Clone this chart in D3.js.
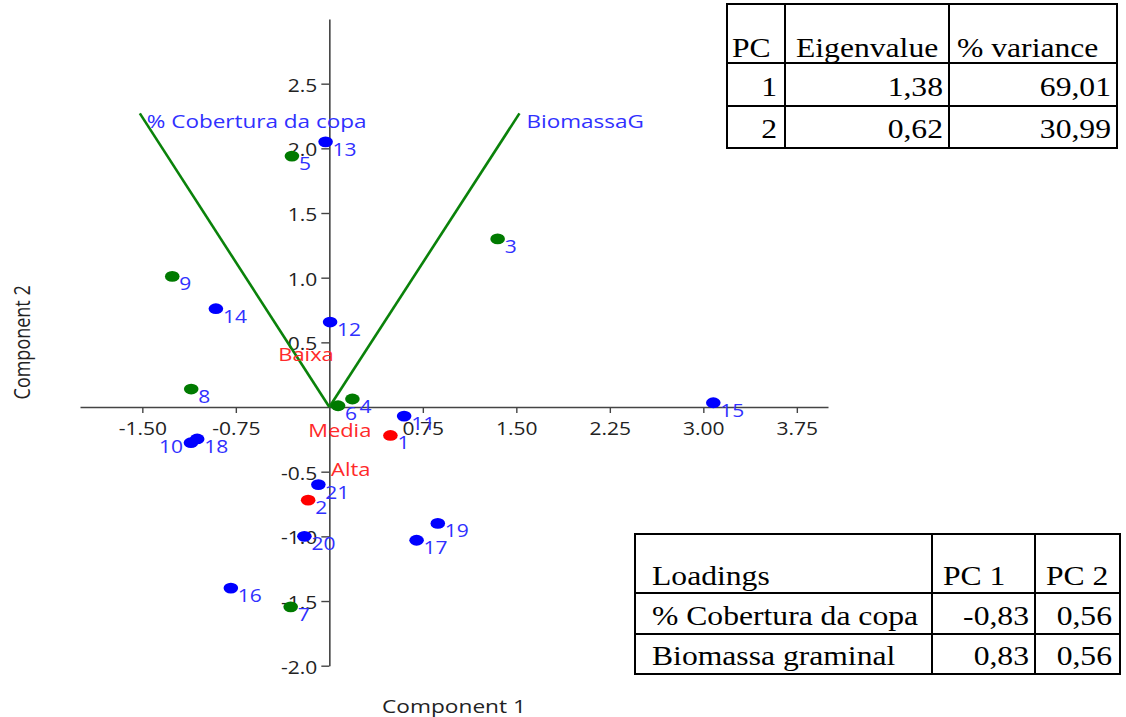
<!DOCTYPE html>
<html><head><meta charset="utf-8">
<script src="https://cdn.jsdelivr.net/npm/d3@7/dist/d3.min.js"></script>
<style>body{margin:0;background:#fff} svg{display:block}</style>
</head><body>
<svg id="c" width="1126" height="717"></svg>
<script>
// ---------- DATA ----------
const obsIds   = [1,2,3,4,5,6,7,8,9,10,11,12,13,14,15,16,17,18,19,20,21];
const obsPC1   = [0.49,-0.17,1.35,0.185,-0.30,0.07,-0.31,-1.108,-1.26,-1.11,0.60,0.006,-0.03,-0.91,3.08,-0.79,0.70,-1.06,0.87,-0.20,-0.088];
const obsPC2   = [-0.22,-0.72,1.30,0.062,1.94,0.01,-1.545,0.139,1.01,-0.276,-0.07,0.657,2.05,0.76,0.033,-1.40,-1.03,-0.247,-0.90,-1.00,-0.60];
const obsGroup = ["r","r","g","g","g","g","g","g","g","b","b","b","b","b","b","b","b","b","b","b","b"];
const groupColor = {r:"#ff0000", g:"#007a00", b:"#0000ff"};

const groupLabels = ["Baixa","Media","Alta"];
const groupLabelPC1 = [-0.41,-0.17,0.014];
const groupLabelPC2 = [0.358,-0.23,-0.53];

const varNames = ["% Cobertura da copa","BiomassaG"];
const varPC1 = [-1.52, 1.525];
const varPC2 = [2.27, 2.27];

const xTicks = [-1.5,-0.75,0.75,1.5,2.25,3.0,3.75];
const yTicks = [-2.0,-1.5,-1.0,-0.5,0.5,1.0,1.5,2.0,2.5];
const xTitle = "Component 1";
const yTitle = "Component 2";

// tables
const pcHeader = ["PC","Eigenvalue","% variance"];
const pcNumber = [1,2];
const eigenvalues = [1.38,0.62];
const variancePct = [69.01,30.99];

const loadHeader = ["Loadings","PC 1","PC 2"];
const loadVars = ["% Cobertura da copa","Biomassa graminal"];
const loadPC1 = [-0.83,0.83];
const loadPC2 = [0.56,0.56];

// ---------- DRAW ----------
const svg = d3.select("#c");
const x = d3.scaleLinear().domain([-2,4]).range([80,828]);
const y = d3.scaleLinear().domain([-2,3]).range([665.7,19]);
const SANS = "'Open Sans', 'Noto Sans', sans-serif";
const SERIF = "'Liberation Serif', 'Times New Roman', serif";
const hy = s => s.replace(/\u2212/g,"-");

function stext(g, str, px, py, opt) {
  return g.append("text")
    .attr("transform", `translate(${px},${py}) scale(${opt.sx||1},1)`)
    .attr("text-anchor", opt.anchor||"start")
    .style("font-family", opt.font||SANS)
    .style("font-size", (opt.size||17)+"px")
    .attr("fill", opt.fill||"#222")
    .text(str);
}

// axes
const xAxis = svg.append("g").attr("transform",`translate(0,${y(0)})`)
  .call(d3.axisBottom(x).tickValues(xTicks).tickSize(6).tickSizeOuter(0).tickFormat(d=>hy(d3.format(".2f")(d))));
const yAxis = svg.append("g").attr("transform",`translate(${x(0)},0)`)
  .call(d3.axisLeft(y).tickValues(yTicks).tickSize(8).tickSizeOuter(0).tickFormat(d=>hy(d3.format(".1f")(d))));
[xAxis,yAxis].forEach(a=>{
  a.select(".domain").attr("stroke","#444").attr("stroke-width",1.6);
  a.selectAll(".tick line").attr("stroke","#444").attr("stroke-width",1.4);
  a.selectAll(".tick text").style("font-family",SANS).style("font-size","17.5px").attr("fill","#222");
});
xAxis.selectAll(".tick text").attr("y",28).attr("dy",0).attr("transform","scale(1.2,1)");
yAxis.selectAll(".tick text").attr("x",-10).attr("y",7.5).attr("dy",0).attr("transform","scale(1.2,1)");

// axis titles
stext(svg, xTitle, (x.range()[0]+x.range()[1])/2, 713, {anchor:"middle", size:18, sx:1.26, fill:"#222"});
svg.append("text")
  .attr("transform", `translate(30,${(y.range()[0]+y.range()[1])/2}) rotate(-90) scale(1,1.25)`)
  .attr("text-anchor","middle").style("font-family",SANS).style("font-size","18px").attr("fill","#222")
  .text(yTitle);

// biplot vectors
const vecG = svg.append("g");
varNames.forEach((n,i)=>{
  vecG.append("line").attr("x1",x(0)).attr("y1",y(0)).attr("x2",x(varPC1[i])).attr("y2",y(varPC2[i]))
    .attr("stroke","#0a820a").attr("stroke-width",2.6);
  stext(vecG, n, x(varPC1[i])+7, y(varPC2[i])+15, {size:18, sx:1.25, fill:"#3030ff"});
});

// group labels
groupLabels.forEach((n,i)=>{
  stext(svg, n, x(groupLabelPC1[i]), y(groupLabelPC2[i]), {size:18, sx:1.22, fill:"#ff2a2a"});
});

// points
const leftLabeled = new Set([10]);
const ptG = svg.append("g");
obsIds.forEach((id,i)=>{
  ptG.append("ellipse").attr("cx",x(obsPC1[i])).attr("cy",y(obsPC2[i])).attr("rx",7.3).attr("ry",5.4)
    .attr("fill",groupColor[obsGroup[i]]);
});
obsIds.forEach((id,i)=>{
  const left = leftLabeled.has(id);
  stext(ptG, String(id), x(obsPC1[i]) + (left ? -8 : 7), y(obsPC2[i])+(left ? 10 : 14),
    {size:17.5, sx:1.2, fill:"#3030ff", anchor: left ? "end" : "start"});
});

// ---------- TABLES ----------
const fmt2 = v => hy(d3.format(".2f")(v)).replace(".",",");
function table(g, cols, rows, cells) {
  const L = cols[0], R = cols[cols.length-1], T = rows[0], B = rows[rows.length-1];
  g.append("rect").attr("x",L).attr("y",T).attr("width",R-L).attr("height",B-T)
    .attr("fill","#fff").attr("stroke","#000").attr("stroke-width",2);
  cols.slice(1,-1).forEach(cx=>g.append("line").attr("x1",cx).attr("x2",cx).attr("y1",T).attr("y2",B).attr("stroke","#000").attr("stroke-width",2));
  rows.slice(1,-1).forEach(ry=>g.append("line").attr("x1",L).attr("x2",R).attr("y1",ry).attr("y2",ry).attr("stroke","#000").attr("stroke-width",2));
  cells.forEach(c=>{
    const px = c.align==="end" ? cols[c.c+1]-c.pad : cols[c.c]+c.pad;
    const py = rows[c.r+1]-c.base;
    stext(g, c.text, px, py, {font:SERIF, size:28, sx:1.13, anchor:c.align, fill:"#000"});
  });
}
const t1 = svg.append("g");
const t1cols = [727,785,949,1117], t1rows = [4,63,106,148];
const t1cells = [];
const hpad1 = [5,11,8];
pcHeader.forEach((h,c)=>t1cells.push({r:0,c,text:h,align:"start",pad:hpad1[c],base:6}));
pcNumber.forEach((p,r)=>{
  t1cells.push({r:r+1,c:0,text:String(p),align:"end",pad:8,base:10});
  t1cells.push({r:r+1,c:1,text:fmt2(eigenvalues[r]),align:"end",pad:6,base:10});
  t1cells.push({r:r+1,c:2,text:fmt2(variancePct[r]),align:"end",pad:6,base:10});
});
table(t1, t1cols, t1rows, t1cells);

const t2 = svg.append("g");
const t2cols = [635,932,1035,1120], t2rows = [534,593,634,674];
const t2cells = [];
const hpad2 = [17,11,11];
loadHeader.forEach((h,c)=>t2cells.push({r:0,c,text:h,align:"start",pad:hpad2[c],base:8}));
loadVars.forEach((v,r)=>{
  t2cells.push({r:r+1,c:0,text:v,align:"start",pad:17,base:9});
  t2cells.push({r:r+1,c:1,text:fmt2(loadPC1[r]),align:"end",pad:6,base:9});
  t2cells.push({r:r+1,c:2,text:fmt2(loadPC2[r]),align:"end",pad:8,base:9});
});
table(t2, t2cols, t2rows, t2cells);
</script>
</body></html>
